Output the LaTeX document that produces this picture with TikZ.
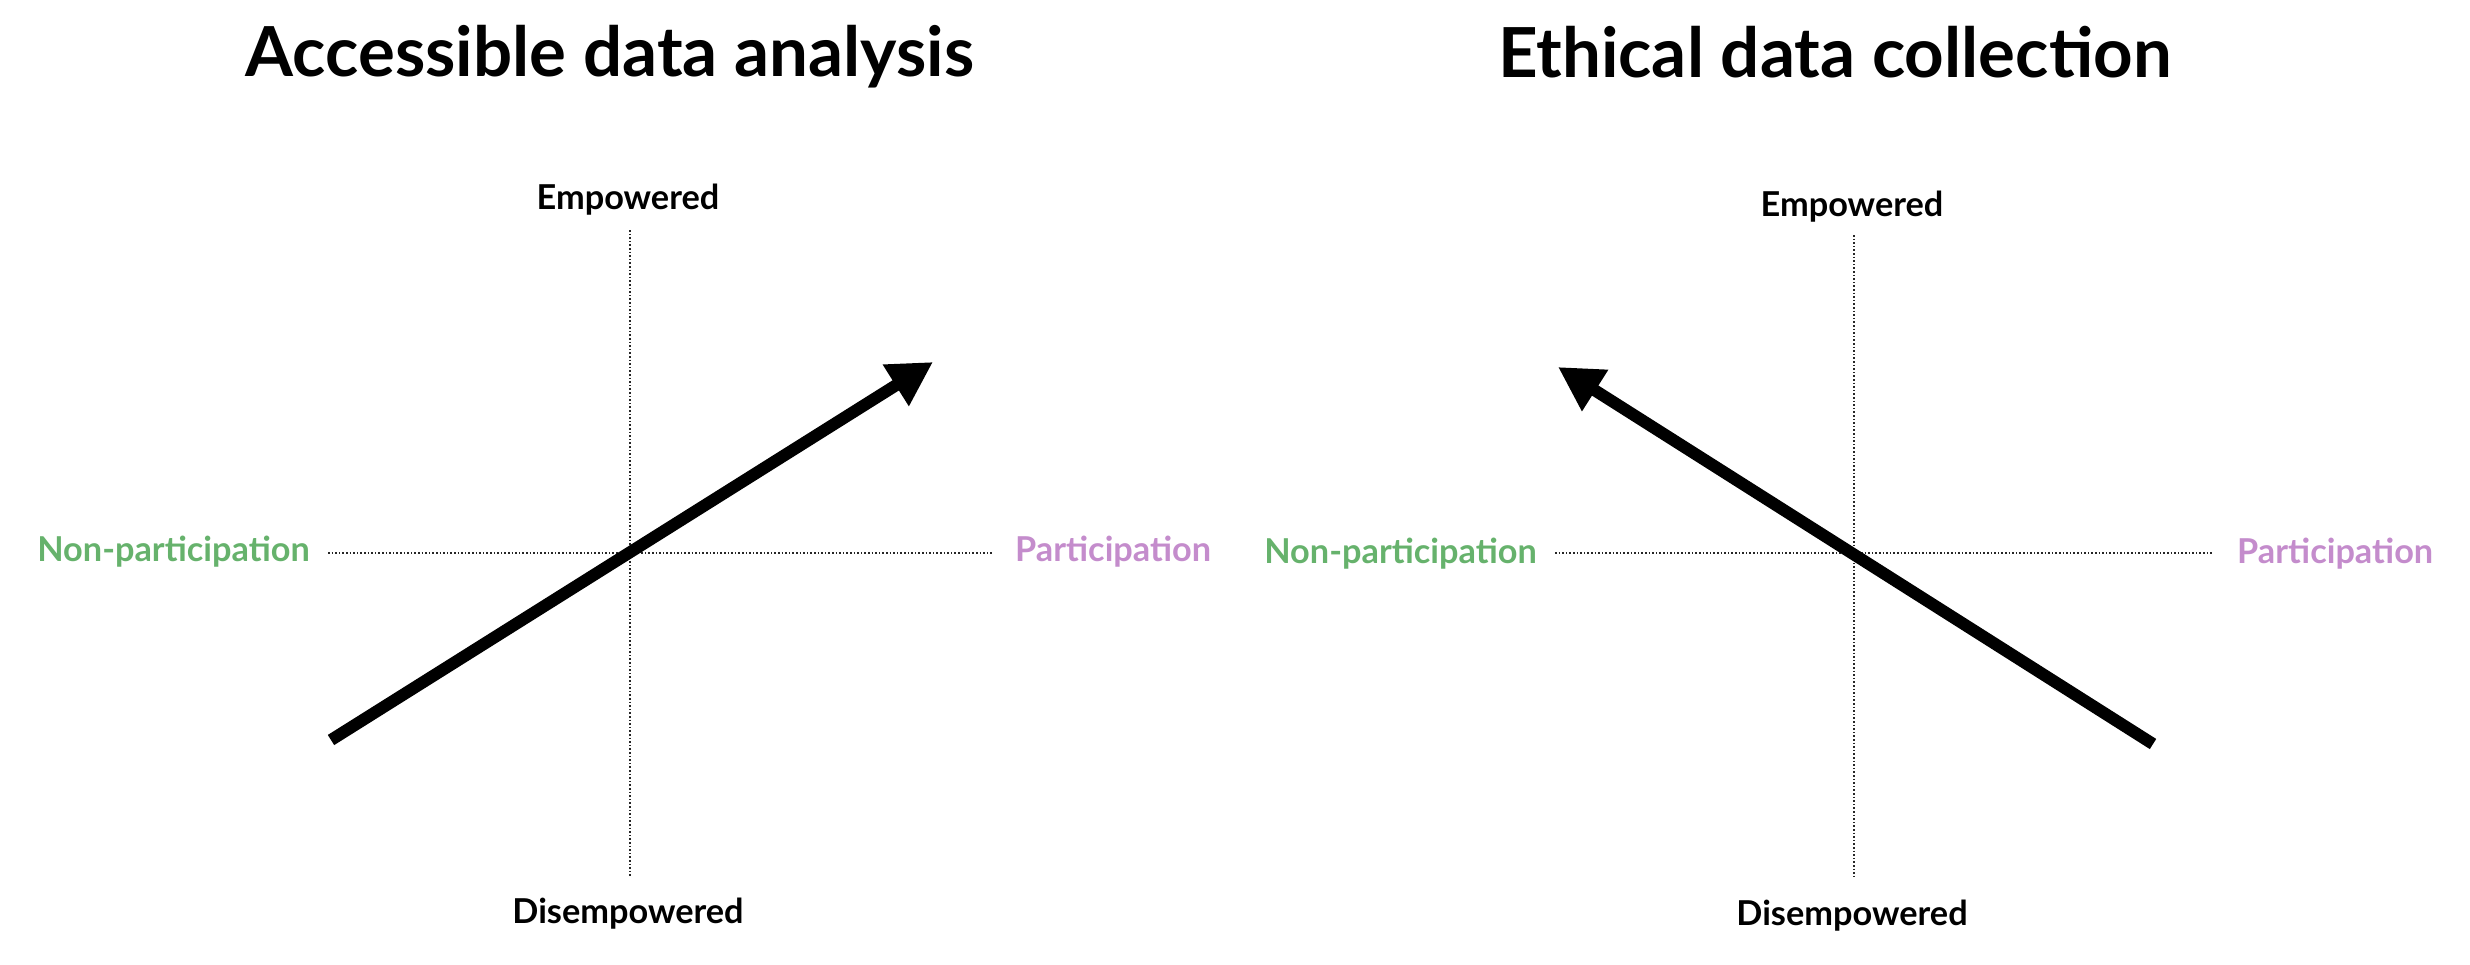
\documentclass[tikz,border=0pt]{standalone}
\usepackage{fontspec}
\setmainfont{Lato}
\usetikzlibrary{arrows.meta}
\definecolor{npgreen}{RGB}{102,178,108}
\definecolor{ppurple}{RGB}{196,140,204}
\tikzset{
  title/.style={font=\fontsize{69}{82}\selectfont\bfseries, anchor=base, inner sep=0pt},
  axlabel/.style={font=\fontsize{34.3}{41}\selectfont\bfseries, anchor=base, inner sep=0pt},
  axisline/.style={line width=1.6pt, dash pattern=on 1.6pt off 2pt, black!85},
  bigarrow/.style={line width=12pt, -{Triangle[length=44pt,width=46pt]}},
}
\begin{document}
\begin{tikzpicture}[x=1pt,y=-1pt]
\useasboundingbox (0,0) rectangle (2470,964);
% ---- left panel
\node[title] (t1) at (610,76) {Accessible data analysis};
\node[axlabel] (e1) at (628,209) {Empowered};
\node[axlabel] (d1) at (628,923) {Disempowered};
\node[axlabel, npgreen, anchor=base east] (n1) at (310,561) {Non-participation};
\node[axlabel, ppurple, anchor=base west] (p1) at (1015,561) {Participation};
\coordinate (v1t) at (630,230);
\coordinate (v1b) at (630,877);
\coordinate (h1l) at (328,553);
\coordinate (h1r) at (992,553);
\draw[axisline] (v1t) -- (v1b);
\draw[axisline] (h1l) -- (h1r);
\coordinate (a1s) at (331,740);
\coordinate (a1e) at (933,362);
\draw[bigarrow] (a1s) -- (a1e);
% ---- right panel
\node[title] (t2) at (1835,77) {Ethical data collection};
\node[axlabel] (e2) at (1852,216) {Empowered};
\node[axlabel] (d2) at (1852,925) {Disempowered};
\node[axlabel, npgreen, anchor=base east] (n2) at (1537,563) {Non-participation};
\node[axlabel, ppurple, anchor=base west] (p2) at (2237,563) {Participation};
\coordinate (v2t) at (1854,235);
\coordinate (v2b) at (1854,877);
\coordinate (h2l) at (1555,553);
\coordinate (h2r) at (2213,553);
\draw[axisline] (v2t) -- (v2b);
\draw[axisline] (h2l) -- (h2r);
\coordinate (a2s) at (2153,744);
\coordinate (a2e) at (1558,367);
\draw[bigarrow] (a2s) -- (a2e);
\end{tikzpicture}
\end{document}
